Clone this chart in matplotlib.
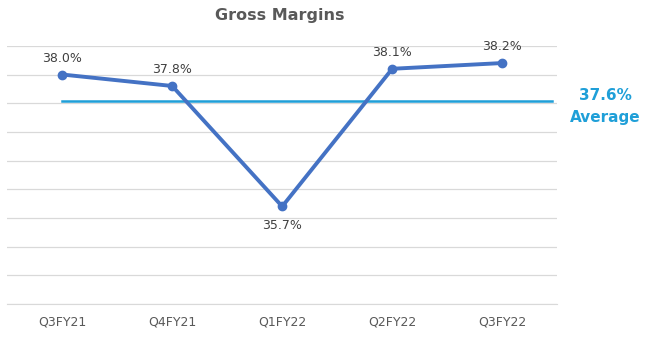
import matplotlib as mpl
mpl.use('Agg')
import matplotlib.pyplot as plt
import numpy as np

quarters = ['Q3FY21', 'Q4FY21', 'Q1FY22', 'Q2FY22', 'Q3FY22']
margins = [38.0, 37.8, 35.7, 38.1, 38.2]
avg_value = 37.53
avg_label = '37.6%'

line_color = '#4472C4'
avg_color = '#1F9FD8'
text_gray = '#404040'

fig = plt.figure(figsize=(6.48, 3.37), dpi=100)
ax = fig.add_axes([0.011, 0.098, 0.849, 0.766])

x = np.arange(len(quarters))
ax.plot(x, margins, color=line_color, linewidth=2.8, marker='o', markersize=6, zorder=3)
ax.plot([0, 4.45], [avg_value, avg_value], color=avg_color, linewidth=1.8, zorder=2)

for i, v in enumerate(margins):
    if 0 < i < len(margins) - 1 and v < margins[i - 1] and v < margins[i + 1]:
        ax.annotate(f'{v:.1f}%', (i, v), xytext=(0, -9), textcoords='offset points',
                    ha='center', va='top', fontsize=9, color=text_gray)
    else:
        ax.annotate(f'{v:.1f}%', (i, v), xytext=(0, 7), textcoords='offset points',
                    ha='center', va='bottom', fontsize=9, color=text_gray)

ax.set_xlim(-0.5, 4.5)
ax.set_ylim(34.0, 38.5)
ax.set_yticks(np.arange(34.0, 38.51, 0.5))
ax.set_yticklabels([])
ax.set_xticks(x)
ax.set_xticklabels(quarters, fontsize=9, color='#595959')
ax.tick_params(length=0, pad=8)
ax.grid(axis='y', color='#D9D9D9', linewidth=0.9)
ax.set_axisbelow(True)
for s in ['top', 'left', 'right']:
    ax.spines[s].set_visible(False)
ax.spines['bottom'].set_color('#D9D9D9')

fig.text(0.432, 0.955, 'Gross Margins', ha='center', va='center', fontsize=11.5,
         fontweight='bold', color='#595959')
fig.text(0.934, 0.718, avg_label, ha='center', va='center', fontsize=11,
         fontweight='bold', color=avg_color)
fig.text(0.934, 0.652, 'Average', ha='center', va='center', fontsize=11,
         fontweight='bold', color=avg_color)

fig.savefig('out.png', dpi=100)
